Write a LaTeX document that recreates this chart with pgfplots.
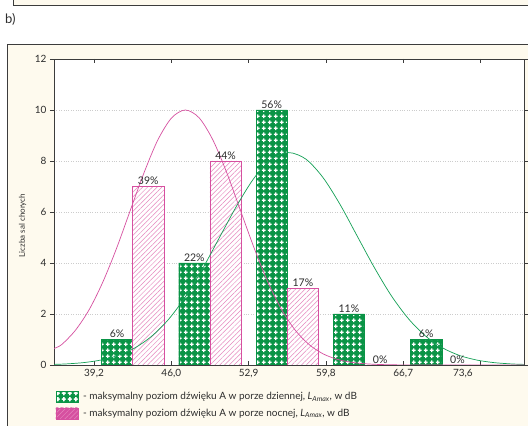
\documentclass[border=0pt]{standalone}
\usepackage{fontspec}
\setmainfont{Lato}
\usepackage{pgfplots}
\pgfplotsset{compat=1.18}
\usetikzlibrary{patterns,patterns.meta}

\definecolor{cream}{RGB}{254,250,238}
\definecolor{frame}{RGB}{60,60,60}
\definecolor{txt}{RGB}{45,45,45}
\definecolor{dgreen}{RGB}{10,148,70}
\definecolor{lgreen}{RGB}{20,160,85}
\definecolor{pinkc}{RGB}{214,80,160}
\definecolor{pinkl}{RGB}{230,135,190}
\newcommand{\lastlab}{73,6}

\tikzdeclarepattern{
  name=whiteplus,
  type=uncolored,
  bottom left={(0pt,0pt)},
  top right={(6.2pt,6.2pt)},
  tile size={(6.2pt,6.2pt)},
  code={
    \fill (0.9pt,2.5pt) rectangle (5.3pt,3.7pt);
    \fill (2.5pt,0.9pt) rectangle (3.7pt,5.3pt);
  }
}

\begin{document}
\begin{tikzpicture}[x=1pt,y=1pt]
\useasboundingbox (0,0) rectangle (528,426);
\fill[cream] (13,421) rectangle (530,430);
\draw[frame, line width=0.8pt] (13,430) -- (13,421) -- (530,421);
\node[anchor=west, font=\fontsize{13}{15}\selectfont, text=txt, inner sep=0pt] at (5,407) {b)};
\filldraw[fill=cream, draw=frame, line width=0.8pt] (7,-5) rectangle (535,382);

\begin{axis}[
  at={(54pt,61pt)}, anchor=south west,
  scale only axis, width=470pt, height=306pt,
  xmin=35.61, xmax=77.44, ymin=0, ymax=12,
  axis background/.style={fill=white},
  axis line style={frame, line width=0.8pt},
  xtick={39.17,46.05,52.93,59.81,66.69,73.57},
  xticklabels={{39,2},{46,0},{52,9},{59,8},{66,7},{}},
  extra x ticks={72.0},
  extra x tick labels={\lastlab},
  extra x tick style={major tick length=0pt, grid=none},
  ytick={0,2,...,12},
  xtick align=inside, ytick align=outside,
  major tick length=4pt,
  tick style={frame, line width=0.6pt},
  ymajorgrids,
  grid style={dotted, black!20, line width=0.6pt},
  /pgf/number format/assume math mode=true,
  ticklabel style={font=\fontsize{10}{11}\selectfont, text=txt},
  xticklabel style={yshift=-1pt},
  ylabel={Liczba sal chorych},
  ylabel style={font=\fontsize{8}{9}\selectfont, text=txt, at={(axis description cs:-0.067,0.456)}, anchor=center},
  legend style={at={(axis description cs:0.003,-0.085)}, anchor=north west, draw=none, fill=none,
     font=\fontsize{10}{11}\selectfont, text=txt, row sep=5pt, inner sep=0pt,
     nodes={inner sep=1pt}},
  legend cell align=left,
]
% day (green) bars
\addplot[ybar, bar width=2.78, bar shift=0, fill=dgreen, draw=dgreen,
  postaction={pattern=whiteplus, pattern color=white},
  legend image code/.code={
    \fill[dgreen] (0pt,-5.5pt) rectangle (22pt,5.5pt);
    \fill[pattern=whiteplus, pattern color=white] (0pt,-5.5pt) rectangle (22pt,5.5pt);}]
  coordinates {(41.22,1) (48.10,4) (54.98,10) (61.86,2) (68.74,1)};
\addlegendentry{\hspace{4pt}- maksymalny poziom dźwięku A w porze dziennej, \textit{L}\textsubscript{\textit{Amax}}, w dB}
% night (pink) bars
\addplot[ybar, bar width=2.78, bar shift=0, fill=white, draw=pinkc, line width=0.7pt,
  postaction={pattern={Lines[angle=45,distance=3.4pt,line width=0.5pt]}, pattern color=pinkl},
  legend image code/.code={
    \filldraw[fill=white, draw=pinkc, line width=0.6pt] (0pt,-5.5pt) rectangle (22pt,5.5pt);
    \fill[pattern={Lines[angle=45,distance=3.5pt,line width=0.5pt]}, pattern color=pinkl] (0pt,-5.5pt) rectangle (22pt,5.5pt);
    \fill[pattern={Lines[angle=-45,distance=3.5pt,line width=0.5pt]}, pattern color=pinkl] (0pt,-5.5pt) rectangle (22pt,5.5pt);
    \draw[pinkc, line width=0.6pt] (0pt,-5.5pt) rectangle (22pt,5.5pt);}]
  coordinates {(44.00,7) (50.88,8) (57.76,3) (64.64,0) (71.52,0)};
\addlegendentry{\hspace{4pt}- maksymalny poziom dźwięku A w porze nocnej, \textit{L}\textsubscript{\textit{Amax}}, w dB}
% fitted normal curves
\addplot[smooth, lgreen, line width=0.7pt, forget plot] coordinates {
 (35.61,0.024) (36.68,0.042) (38.20,0.092) (39.73,0.190) (41.25,0.366) (42.78,0.663)
 (44.30,1.127) (45.83,1.802) (47.35,2.705) (48.88,3.814) (50.40,5.052) (51.93,6.287)
 (53.45,7.351) (54.98,8.073) (56.50,8.330) (58.03,8.073) (59.55,7.351) (61.08,6.287)
 (62.60,5.052) (64.13,3.814) (65.65,2.705) (67.18,1.802) (68.70,1.127) (70.23,0.663)
 (71.75,0.366) (73.28,0.190) (74.80,0.092) (76.33,0.042) (77.44,0.024)};
\addplot[smooth, pinkc, line width=0.7pt, forget plot] coordinates {
 (35.61,0.65) (36.28,0.796) (37.50,1.353) (38.73,2.163) (39.95,3.247) (41.18,4.578)
 (42.40,6.065) (43.63,7.548) (44.85,8.825) (46.08,9.692) (47.30,10.0) (48.53,9.692)
 (49.75,8.825) (50.98,7.548) (52.20,6.065) (53.43,4.578) (54.65,3.247) (55.88,2.163)
 (57.10,1.353) (58.33,0.796) (59.55,0.439) (60.78,0.228) (62.00,0.111) (63.23,0.051)
 (64.45,0.022) (65.68,0.009) (66.90,0.003) (70.00,0.0) (77.44,0.0)};
% percentage labels
\addplot[draw=none, forget plot, nodes near coords, point meta=explicit symbolic,
  every node near coord/.append style={font=\fontsize{10.5}{11}\selectfont, text=txt, inner sep=1.5pt}]
  coordinates {(41.22,1)[6\%] (48.10,4)[22\%] (54.98,10)[56\%] (61.86,2)[11\%] (68.74,1)[6\%]
               (44.00,7)[39\%] (50.88,8)[44\%] (57.76,3)[17\%] (64.64,0)[0\%] (71.52,0)[0\%]};
\end{axis}
\end{tikzpicture}
\end{document}
